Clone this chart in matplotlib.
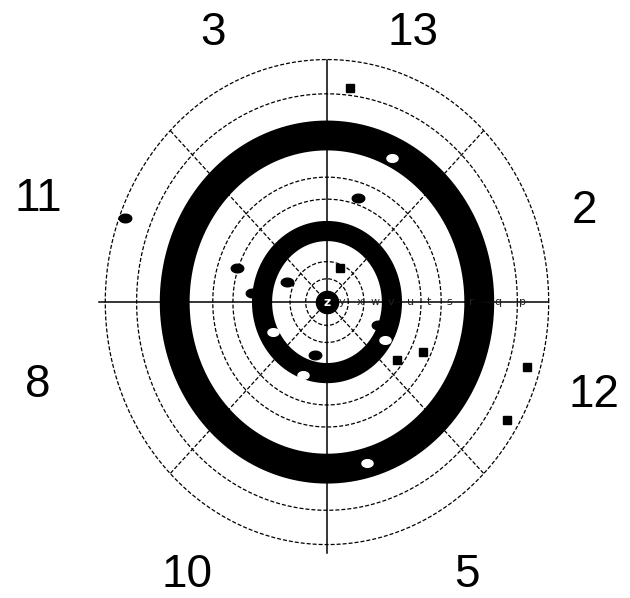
import numpy as np
import matplotlib.pyplot as plt
from matplotlib.path import Path

# ======================================================
# Data
# ======================================================
ring_radii = [0.095, 0.165, 0.42, 0.51, 0.85, 0.99]
band_radii = [0.29, 0.68]
band_widths = [14.5, 21.5]          # pt
spoke_angles = [45, 135, 225, 315]

axis_letters = ["y", "x", "w", "v", "u", "t", "s", "r", "q", "p"]
letter_r = [0.07, 0.15, 0.22, 0.295, 0.385, 0.47, 0.565, 0.665, 0.785, 0.90]

# black marks: (r, theta deg)
dot_r = [0.446, 0.965, 0.425, 0.337, 0.197, 0.223, 0.246]
dot_t = [72.0, 159.2, 160.9, 173.7, 155.4, 256.0, 337.6]
sq_r = [0.88, 0.150, 0.392, 0.475, 0.931, 0.937]
sq_t = [83.3, 67.3, 322.8, 334.6, 343.5, 329.1]
# white marks sitting on the bands
wh_r = [0.655, 0.270, 0.302, 0.317, 0.681]
wh_t = [63.7, 206.9, 329.1, 250.3, 285.2]

outer_labels = ["3", "13", "11", "2", "8", "12", "10", "5"]
outer_xy = [(-0.51, 1.10), (0.385, 1.10), (-1.29, 0.42), (1.15, 0.37),
            (-1.29, -0.34), (1.19, -0.38), (-0.625, -1.115), (0.625, -1.115)]


def polar(r, t):
    t = np.radians(np.asarray(t))
    r = np.asarray(r)
    return r * np.cos(t), r * np.sin(t)


# elliptical marker
tt = np.linspace(0, 2 * np.pi, 40)
ell = Path(np.column_stack([1.45 * np.cos(tt), np.sin(tt)]), closed=True)

# ======================================================
# Plot
# ======================================================
fig = plt.figure(figsize=(6.3, 5.98), dpi=100)
ax = fig.add_axes([0, 0, 1, 1])
ax.set_xlim(-1.460, 1.353)
ax.set_ylim(-1.208, 1.233)
ax.axis("off")

th = np.linspace(0, 360, 721)
dash = (0, (3.2, 1.6))
for r in ring_radii:
    x, y = polar(r, th)
    ax.plot(x, y, color="black", lw=0.9, ls=dash, zorder=1)

for a in spoke_angles:
    x, y = polar([0, ring_radii[-1]], [a, a])
    ax.plot(x, y, color="black", lw=0.9, ls=dash, zorder=1)

ax.plot([-1.02, 0.985], [0, 0], color="black", lw=1.1, zorder=2)
ax.plot([0, 0], [-1.025, 0.99], color="black", lw=1.1, zorder=2)

for r, w in zip(band_radii, band_widths):
    x, y = polar(r, th)
    ax.plot(x, y, color="black", lw=w, solid_capstyle="butt", zorder=3)

x, y = polar(dot_r, dot_t)
ax.plot(x, y, ls="none", marker=ell, ms=9, color="black", zorder=4)
x, y = polar(sq_r, sq_t)
ax.plot(x, y, ls="none", marker="s", ms=6, color="black", zorder=4)
x, y = polar(wh_r, wh_t)
ax.plot(x, y, ls="none", marker=ell, ms=8, color="white", zorder=4)

# centre
ax.plot(0, 0, marker="o", ms=16, color="black", zorder=5)
ax.text(0, 0, "z", color="white", fontsize=9, fontweight="bold",
        ha="center", va="center", zorder=6)

for lab, r in zip(axis_letters, letter_r):
    ax.text(r * 0.97, 0, lab, fontsize=8, ha="center", va="center",
            color="#222222", zorder=6)

for lab, (lx, ly) in zip(outer_labels, outer_xy):
    ax.text(lx, ly, lab, fontsize=33, family="Liberation Sans",
            ha="center", va="center")

plt.savefig("out.png", dpi=100)
plt.close()
